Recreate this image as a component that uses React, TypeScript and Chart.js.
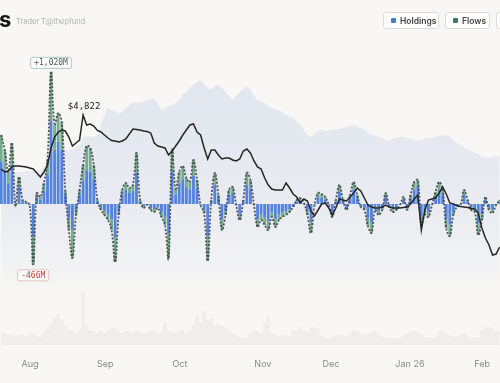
import React, { useEffect, useRef } from "react";
import { Chart, registerables } from "chart.js";

Chart.register(...registerables);

// Daily ETF flows ($M) by trading day index, split in two groups
const blueFlows = [
  330, 260, 160, 300, -10, 130, 20, 10, -5, -250,
  55, 35, 100, 230, 640, 420, 480, 420, 70, -110,
  -200, -50, 70, 180, 260, 250, 190, 20, -30, -55,
  -80, -120, -260, -50, 75, 110, 85, 100, 240, 20,
  -20, -5, -30, -40, -20, -65, -100, -230, 250, 70,
  160, 190, 130, 110, 220, 120, -5, -45, -250, 20,
  150, 45, -120, -55, 70, 85, -5, -80, 20, 150,
  120, -5, -115, -80, -105, -130, -65, -115, -80, -65,
  -55, -40, -15, 20, 30, 5, -55, -140, -5, 55,
  50, 35, -5, -65, 20, 95, 20, -30, 45, 110,
  45, -15, -30, -110, -140, -30, -55, -30, 55, -15,
  -40, -30, -5, 35, -30, 45, 110, 140, -100, -55,
  -65, -5, 60, 110, 70, -120, -160, -55, -15, -5,
  70, 20, -30, -40, -150, -80, 35, -30, -45, -5,
  20,
];
const greenFlows = [
  203, 157, 87, 171, -5, 78, 11, 5, -3, -216,
  30, 19, 62, 110, 380, 190, 222, 213, 30, -90,
  -217, -35, 38, 121, 188, 182, 111, 11, -16, -30,
  -44, -80, -188, -35, 33, 52, 39, 47, 154, 11,
  -11, -3, -16, -22, -11, -35, -62, -190, 167, 38,
  87, 103, 70, 60, 120, 65, -3, -25, -190, 11,
  90, 25, -80, -30, 38, 46, -3, -44, 11, 90,
  65, -3, -63, -44, -57, -70, -35, -63, -44, -35,
  -30, -22, -8, 11, 16, 3, -30, -84, -3, 30,
  27, 19, -3, -35, 11, 52, 11, -16, 25, 60,
  25, -8, -16, -60, -84, -16, -30, -16, 30, -8,
  -22, -16, -3, 19, -16, 25, 60, 45, -62, -30,
  -35, -3, 33, 60, 38, -65, -87, -30, -8, -3,
  38, 11, -16, -22, -90, -44, 19, -16, -25, -3,
  11,
];
// ETH price ($)
const ethPrice = [
  3742, 3682, 3702, 3782, 3802, 3802, 3792, 3782, 3762, 3742,
  3662, 3582, 3682, 3822, 4162, 4382, 4482, 4522, 4502, 4382,
  4202, 4262, 4322, 4822, 4622, 4642, 4602, 4512, 4482, 4422,
  4362, 4312, 4302, 4282, 4302, 4342, 4442, 4542, 4532, 4522,
  4502, 4492, 4462, 4262, 4202, 4182, 4162, 4022, 4102, 4202,
  4302, 4422, 4522, 4622, 4642, 4482, 4422, 4162, 3942, 4122,
  4122, 4022, 3942, 3962, 3962, 3922, 3902, 3942, 4102, 4142,
  4062, 3902, 3782, 3742, 3562, 3422, 3342, 3322, 3322, 3322,
  3462, 3362, 3242, 3182, 3062, 3142, 3102, 2902, 2802, 2922,
  3042, 3062, 2962, 2822, 2962, 3142, 3122, 3102, 3182, 3262,
  3362, 3302, 3162, 3022, 2982, 2962, 2962, 2982, 3022, 2982,
  2962, 2962, 2962, 2972, 2982, 3042, 3142, 3222, 2522, 2922,
  3122, 3142, 3162, 3262, 3382, 3242, 3062, 3042, 3012, 2992,
  2982, 2972, 2952, 2942, 2862, 2562, 2362, 2222, 2022, 2042,
  2182,
];
// Total holdings ($B)
const holdingsAum = [
  16.4, 16.4, 16.6, 16.6, 16.7, 16.9, 16.9, 17.0, 17.0, 16.9,
  17.0, 17.1, 17.7, 18.3, 19.0, 19.3, 19.7, 20.0, 20.0, 19.9,
  20.1, 20.4, 20.7, 21.7, 22.0, 21.9, 21.9, 22.1, 23.6, 25.0,
  26.1, 25.7, 25.4, 25.3, 25.4, 26.0, 26.4, 26.9, 26.7, 26.9,
  26.9, 27.1, 27.3, 27.4, 26.6, 25.7, 26.0, 26.3, 26.4, 26.7,
  27.1, 27.9, 28.3, 28.9, 29.3, 29.7, 30.0, 29.4, 28.9, 28.6,
  29.1, 29.4, 28.9, 28.3, 27.7, 27.1, 27.7, 28.3, 28.7, 29.1,
  28.6, 27.7, 27.1, 26.9, 26.7, 26.3, 26.0, 25.7, 25.7, 25.4,
  25.0, 24.7, 24.6, 24.1, 23.6, 22.9, 22.1, 21.9, 22.3, 22.7,
  22.9, 22.7, 22.7, 22.9, 22.9, 23.0, 23.1, 23.3, 23.4, 23.6,
  23.4, 23.1, 22.9, 22.4, 22.3, 22.1, 21.9, 21.7, 21.4, 21.4,
  21.6, 21.7, 21.9, 21.9, 21.7, 21.6, 21.4, 21.4, 21.4, 21.6,
  21.7, 21.7, 21.9, 22.0, 22.1, 22.1, 21.9, 21.4, 21.0, 20.7,
  20.4, 20.0, 19.9, 19.6, 19.3, 19.0, 18.9, 18.9, 19.0, 19.1,
  19.1,
];
// Trading volume ($B)
const volume = [
  0.6, 0.6, 0.5, 0.55, 0.45, 0.5, 0.55, 0.45, 0.65, 0.6,
  0.45, 0.4, 0.65, 0.8, 1.05, 1.35, 1.6, 1.25, 1.0, 0.75,
  0.7, 0.6, 0.75, 2.65, 1.0, 0.75, 0.7, 0.6, 0.75, 0.6,
  0.75, 0.9, 0.85, 0.7, 0.6, 0.7, 0.75, 0.6, 0.75, 0.65,
  0.55, 0.6, 0.75, 0.7, 0.6, 0.65, 1.1, 0.65, 0.7, 0.6,
  0.7, 0.75, 0.6, 0.7, 1.0, 1.45, 1.15, 1.7, 1.25, 1.35,
  1.0, 1.05, 0.95, 0.85, 0.75, 0.6, 0.5, 0.4, 0.35, 0.35,
  0.6, 0.75, 0.65, 0.6, 1.15, 1.45, 0.6, 0.5, 0.45, 0.5,
  0.5, 0.45, 0.75, 0.7, 0.9, 0.75, 0.65, 0.85, 0.9, 0.8,
  0.45, 0.35, 0.35, 0.4, 0.5, 0.5, 0.55, 0.45, 0.6, 0.75,
  0.7, 0.6, 0.5, 0.55, 0.65, 0.7, 0.5, 0.4, 0.4, 0.35,
  0.35, 0.3, 0.35, 0.45, 0.55, 0.7, 0.7, 0.65, 0.55, 0.4,
  0.35, 0.35, 0.4, 0.7, 0.75, 0.6, 0.5, 0.4, 0.45, 0.55,
  0.6, 0.45, 0.35, 0.35, 0.4, 0.75, 0.9, 0.9, 0.85, 0.7,
  0.65,
];
const monthTicks = [8.1, 29.2, 50.2, 73.5, 92.6, 114.8, 135.1];
const monthLabels = ["Aug", "Sep", "Oct", "Nov", "Dec", "Jan 26", "Feb"];

const X_MIN = -0.34;
const X_MAX = 140.1;
const BG = "#f8f7f5";

export default function App() {
  const ref = useRef<HTMLCanvasElement>(null);

  useEffect(() => {
    document.body.style.margin = "0";
    const pts = (arr: number[]) => arr.map((v, i) => ({ x: i, y: v }));
    const totals = blueFlows.map((b, i) => b + greenFlows[i]);

    let iMax = 0, iMin = 0, iP = 0;
    totals.forEach((v, i) => {
      if (v > totals[iMax]) iMax = i;
      if (v < totals[iMin]) iMin = i;
    });
    ethPrice.forEach((v, i) => { if (v > ethPrice[iP]) iP = i; });

    const soften = {
      id: "soften",
      beforeDatasetDraw(chart: any, args: any) {
        if (args.index === 0) chart.ctx.filter = "blur(1.2px)";
        if (args.index === 1) chart.ctx.filter = "blur(0.8px)";
      },
      afterDatasetDraw(chart: any) {
        chart.ctx.filter = "none";
      },
    };

    const annot = {
      id: "annot",
      afterDatasetsDraw(chart: any) {
        const { ctx } = chart;
        const xs = chart.scales.x, yF = chart.scales.yF, yP = chart.scales.yP;
        const box = (text: string, cx: number, cy: number, color: string, border: string) => {
          ctx.save();
          ctx.font = '8px "DejaVu Sans Mono", monospace';
          const w = ctx.measureText(text).width + 7;
          const h = 11;
          ctx.beginPath();
          ctx.roundRect(cx - w / 2, cy - h / 2, w, h, 2);
          ctx.fillStyle = "rgba(255,255,255,0.92)";
          ctx.fill();
          ctx.strokeStyle = border;
          ctx.lineWidth = 1;
          ctx.stroke();
          ctx.fillStyle = color;
          ctx.textAlign = "center";
          ctx.textBaseline = "middle";
          ctx.fillText(text, cx, cy + 0.5);
          ctx.restore();
        };
        const fmt = (v: number) => Math.abs(v).toLocaleString("en-US");
        box("+" + fmt(totals[iMax]) + "M", xs.getPixelForValue(iMax), yF.getPixelForValue(totals[iMax]) - 9, "#4a5a50", "rgba(140,180,155,0.7)");
        box("-" + fmt(totals[iMin]) + "M", xs.getPixelForValue(iMin), yF.getPixelForValue(totals[iMin]) + 11, "#c0392b", "rgba(215,150,150,0.6)");
        ctx.save();
        ctx.font = '9px "DejaVu Sans Mono", monospace';
        ctx.fillStyle = "#222";
        ctx.textAlign = "center";
        ctx.textBaseline = "bottom";
        ctx.fillText("$" + fmt(ethPrice[iP]), xs.getPixelForValue(iP) + 1, yP.getPixelForValue(ethPrice[iP]) - 4);
        ctx.restore();
      },
    };

    const chart = new Chart(ref.current as HTMLCanvasElement, {
      type: "bar",
      data: {
        datasets: [
          {
            type: "line",
            label: "Holdings AUM",
            data: pts(holdingsAum),
            yAxisID: "yA",
            order: 5,
            borderWidth: 0,
            pointRadius: 0,
            tension: 0,
            fill: "origin",
            backgroundColor: (c: any) => {
              const ch = c.chart;
              if (!ch.chartArea) return "rgba(195,206,228,0.35)";
              const g = ch.ctx.createLinearGradient(0, 80, 0, 300);
              g.addColorStop(0, "rgba(192,205,230,0.4)");
              g.addColorStop(0.6, "rgba(192,205,230,0.26)");
              g.addColorStop(1, "rgba(192,205,230,0)");
              return g;
            },
          } as any,
          {
            type: "line",
            label: "Volume",
            data: pts(volume),
            yAxisID: "yV",
            order: 4,
            borderWidth: 0,
            pointRadius: 0,
            stepped: "middle",
            fill: "origin",
            backgroundColor: "rgba(110,95,80,0.06)",
          } as any,
          {
            type: "bar",
            label: "Holdings",
            data: pts(blueFlows),
            yAxisID: "yF",
            stack: "f",
            order: 3,
            backgroundColor: "rgba(70,122,218,0.92)",
            barPercentage: 1,
            categoryPercentage: 0.8,
          } as any,
          {
            type: "bar",
            label: "Flows",
            data: pts(greenFlows),
            yAxisID: "yF",
            stack: "f",
            order: 3,
            backgroundColor: "rgba(95,160,125,0.85)",
            barPercentage: 1,
            categoryPercentage: 0.8,
          } as any,
          {
            type: "line",
            label: "Net",
            data: pts(totals),
            yAxisID: "yF2",
            order: 2,
            borderColor: "rgba(70,70,70,0.9)",
            borderWidth: 1.8,
            borderDash: [2, 1.6],
            pointRadius: 0,
            tension: 0.4,
            fill: false,
          } as any,
          {
            type: "line",
            label: "ETH",
            data: pts(ethPrice),
            yAxisID: "yP",
            order: 1,
            borderColor: "#262626",
            borderWidth: 1.5,
            pointRadius: 0,
            tension: 0,
            fill: false,
          } as any,
        ],
      },
      options: {
        responsive: false,
        animation: false,
        layout: { padding: { top: 40, left: 0, right: 0, bottom: 0 } },
        plugins: { legend: { display: false }, tooltip: { enabled: false } },
        scales: {
          x: {
            type: "linear",
            min: X_MIN,
            max: X_MAX,
            bounds: "data",
            offset: false,
            grid: { display: false, drawTicks: false, offset: false },
            border: { display: false },
            ticks: {
              color: "#8a8a8a",
              font: { size: 9, family: "Inter, sans-serif" },
              padding: 11,
              maxRotation: 0,
              autoSkip: false,
              callback: (_v: any, i: number) => monthLabels[i] ?? "",
            },
            afterBuildTicks: (s: any) => {
              s.ticks = monthTicks.map((v) => ({ value: v }));
            },
            afterFit: (s: any) => {
              s.height = 35;
              s.paddingLeft = 0;
              s.paddingRight = 0;
            },
          } as any,
          yF: { display: false, stacked: true, min: -1112, max: 1266 },
          yF2: { display: false, min: -1112, max: 1266 },
          yP: { display: false, min: 162, max: 6322 },
          yA: { display: false, min: -8.29, max: 35.71 },
          yV: { display: false, min: -0.15, max: 15.25 },
        },
      },
      plugins: [soften, annot],
    } as any);
    return () => chart.destroy();
  }, []);

  const btn = (label: string, color: string, left: number, width: number) => (
    <div
      style={{
        position: "absolute",
        left,
        top: 12,
        width,
        height: 17,
        boxSizing: "border-box",
        border: "1px solid #dedcd8",
        borderRadius: 3,
        background: "#ffffff",
        display: "flex",
        alignItems: "center",
        paddingLeft: 7,
        gap: 4,
        fontSize: 8.5,
        fontWeight: 600,
        color: "#444",
        fontFamily: "Inter, sans-serif",
        whiteSpace: "nowrap",
      }}
    >
      <span style={{ width: 5, height: 5, borderRadius: 1, background: color, display: "inline-block" }} />
      <span>{label}</span>
    </div>
  );

  return (
    <div
      style={{
        position: "fixed",
        left: 0,
        top: 0,
        width: 500,
        height: 383,
        overflow: "hidden",
        background: BG,
      }}
    >
      <canvas ref={ref} width={500} height={383} style={{ position: "absolute", left: 0, top: 0, width: 500, height: 383 }} />
      <div
        style={{
          position: "absolute",
          left: -1,
          top: 8,
          fontFamily: "Inter, sans-serif",
          fontWeight: 700,
          fontSize: 22,
          lineHeight: "22px",
          color: "#151515",
        }}
      >
        s
      </div>
      <div
        style={{
          position: "absolute",
          left: 16,
          top: 17,
          fontFamily: "Inter, sans-serif",
          fontSize: 7.5,
          lineHeight: "10px",
          color: "#b3b1ad",
          whiteSpace: "nowrap",
        }}
      >
        Trader T@thepfund
      </div>
      {btn("Holdings", "#4a7bd2", 383, 56)}
      {btn("Flows", "#3e7a5b", 445, 45)}
      {btn("Net", "#888", 496, 40)}
    </div>
  );
}
